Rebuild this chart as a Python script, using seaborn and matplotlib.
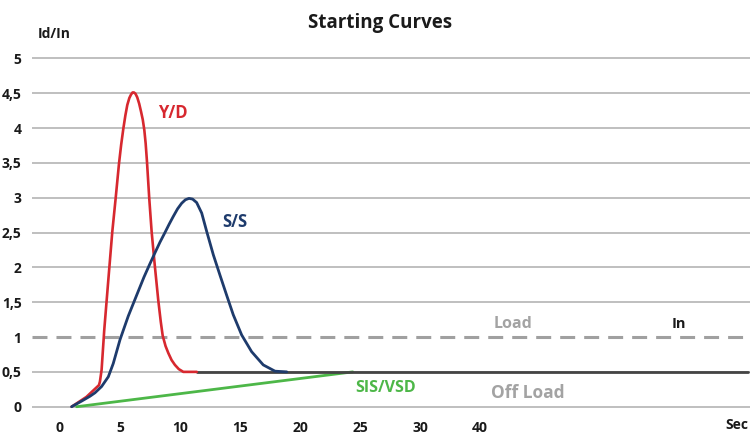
import matplotlib
matplotlib.use("Agg")
import matplotlib.pyplot as plt
import seaborn as sns
import pandas as pd

# ---- data ----
title = "Starting Curves"
y_label = "Id/In"
x_unit = "Sec"

x_tick_pos = [0, 5, 10, 15, 20, 25, 30, 35]
x_tick_labels = ["0", "5", "10", "15", "20", "25", "30", "40"]
y_ticks = [0, 0.5, 1, 1.5, 2, 2.5, 3, 3.5, 4, 4.5, 5]
y_tick_labels = ["0", "0,5", "1", "1,5", "2", "2,5", "3", "3,5", "4", "4,5", "5"]

yd_x = [0.97, 2.2, 3.25, 3.33, 3.47, 3.69, 4.03, 4.36, 4.64, 4.92, 5.1, 5.28, 5.45, 5.61, 5.78,
        5.92, 6.05, 6.17, 6.3, 6.44, 6.6, 6.75, 6.9, 7.03, 7.14, 7.25, 7.44, 7.64, 7.9, 8.19,
        8.4, 8.56, 8.8, 9.03, 9.3, 9.58, 9.9, 10.28, 11.4]
yd_y = [0.0, 0.14, 0.31, 0.36, 0.53, 1.10, 1.82, 2.51, 2.99, 3.49, 3.76, 3.99, 4.18, 4.33, 4.43,
        4.48, 4.51, 4.51, 4.49, 4.44, 4.35, 4.24, 4.12, 3.97, 3.78, 3.52, 2.99, 2.51, 2.03, 1.53,
        1.22, 1.02, 0.87, 0.77, 0.67, 0.60, 0.54, 0.50, 0.50]

ss_x = [0.97, 1.8, 2.5, 2.92, 3.47, 4.03, 4.44, 5.0, 5.69, 6.39, 7.0, 7.44, 7.92, 8.33, 8.75,
        9.1, 9.44, 9.8, 10.14, 10.45, 10.75, 11.05, 11.39, 11.81, 12.22, 12.78, 13.33, 13.89,
        14.44, 15.14, 15.97, 16.94, 17.92, 18.9]
ss_y = [0.0, 0.08, 0.15, 0.20, 0.29, 0.43, 0.62, 0.96, 1.30, 1.60, 1.86, 2.03, 2.21, 2.36, 2.50,
        2.62, 2.73, 2.84, 2.92, 2.97, 2.99, 2.98, 2.93, 2.78, 2.52, 2.18, 1.89, 1.60,
        1.32, 1.03, 0.79, 0.60, 0.51, 0.50]

sis_x = [1.39, 24.4]
sis_y = [0.0, 0.5]

in_x = [11.4, 57.3]
in_y = [0.5, 0.5]

load_level = 1.0

# ---- styling ----
RED = "#D7282F"
BLUE = "#1E3B6C"
GREEN = "#4DB748"
DARK = "#444444"
GRID = "#B4B4B4"
DASH = "#A0A0A0"
GRAYTXT = "#A3A3A3"

sns.set_theme(style="white")
plt.rcParams["font.family"] = ["Open Sans", "DejaVu Sans"]

fig = plt.figure(figsize=(7.5, 4.48), dpi=100)
# axes placed so that x=0 -> 60px, 12px per unit; y=0 -> 406.7px, y=5 -> 58.3px
ax = fig.add_axes([32 / 750, (448 - 410.2) / 448, 718 / 750, (410.2 - 44.4) / 448])
ax.set_xlim(-2.33, 57.5)
ax.set_ylim(-0.05, 5.2)

for lv in y_ticks:
    if lv == load_level:
        continue
    ax.axhline(lv, color=GRID, lw=1.2, zorder=1)
ax.axhline(load_level, color=DASH, lw=2.2, ls=(0, (4.9, 2.95)), zorder=1)

df_sis = pd.DataFrame({"x": sis_x, "y": sis_y})
df_in = pd.DataFrame({"x": in_x, "y": in_y})
df_yd = pd.DataFrame({"x": yd_x, "y": yd_y})
df_ss = pd.DataFrame({"x": ss_x, "y": ss_y})

line_kw = dict(sort=False, solid_joinstyle="round", solid_capstyle="round")
sns.lineplot(data=df_sis, x="x", y="y", ax=ax, color=GREEN, lw=2.0, zorder=3, **line_kw)
sns.lineplot(data=df_in, x="x", y="y", ax=ax, color=DARK, lw=2.0, zorder=3, sort=False)
sns.lineplot(data=df_yd, x="x", y="y", ax=ax, color=RED, lw=1.9, zorder=4, **line_kw)
sns.lineplot(data=df_ss, x="x", y="y", ax=ax, color=BLUE, lw=2.0, zorder=5, **line_kw)

for s in ax.spines.values():
    s.set_visible(False)
ax.set_xlabel("")
ax.set_ylabel("")

ax.set_xticks(x_tick_pos)
ax.set_xticklabels(x_tick_labels, fontsize=10, fontweight="bold", color="#1a1a1a")
ax.set_yticks(y_ticks)
ax.set_yticklabels(y_tick_labels, fontsize=10, fontweight="bold", color="#1a1a1a")
ax.tick_params(axis="x", length=0, pad=8)
ax.tick_params(axis="y", length=0, pad=7.5)

ax.text(56.4, -0.26, x_unit, transform=ax.transData, ha="center", va="center",
        fontsize=10, fontweight="bold", color="#1a1a1a", clip_on=False)
fig.text(54 / 750, 1 - 34 / 448, y_label, ha="center", va="center",
         fontsize=10, fontweight="bold", color="#1a1a1a")
fig.text(380 / 750, 1 - 23 / 448, title, ha="center", va="center",
         fontsize=13.5, fontweight="bold", color="#1a1a1a")

ax.text(9.42, 4.21, "Y/D", color=RED, fontsize=12, fontweight="bold", ha="center", va="center")
ax.text(14.6, 2.65, "S/S", color=BLUE, fontsize=12, fontweight="bold", ha="center", va="center")
ax.text(37.75, 1.18, "Load", color=GRAYTXT, fontsize=11.5, fontweight="bold", ha="center", va="center")
ax.text(51.6, 1.18, "In", color="#1a1a1a", fontsize=10.5, fontweight="bold", ha="center", va="center")
ax.text(27.1, 0.27, "SIS/VSD", color=GREEN, fontsize=11.5, fontweight="bold", ha="center", va="center")
ax.text(39.0, 0.20, "Off Load", color=GRAYTXT, fontsize=12.5, fontweight="bold", ha="center", va="center")

fig.savefig("out.png", dpi=100)
